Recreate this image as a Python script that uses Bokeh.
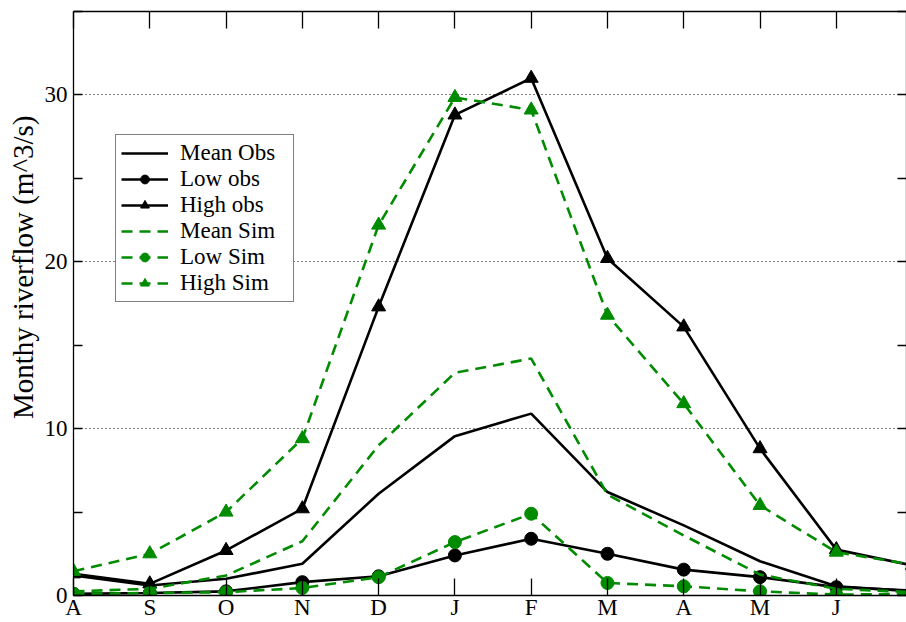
from bokeh.plotting import figure
from bokeh.models import (Range1d, FixedTicker, SingleIntervalTicker, LinearAxis,
                          Legend, LegendItem, Title)
from bokeh.embed import file_html
from bokeh.resources import INLINE

# ---- data ----
months = ["A", "S", "O", "N", "D", "J", "F", "M", "A", "M", "J", "J"]
month_idx = list(range(len(months)))

mean_obs = [1.2, 0.6, 1.0, 1.9, 6.1, 9.55, 10.9, 6.2, 4.2, 2.05, 0.55, 0.25]
low_obs = [0.1, 0.15, 0.25, 0.8, 1.15, 2.4, 3.4, 2.5, 1.55, 1.1, 0.5, 0.3]
high_obs = [1.3, 0.7, 2.7, 5.2, 17.3, 28.8, 31.0, 20.2, 16.1, 8.8, 2.75, 1.8]
mean_sim = [0.25, 0.4, 1.2, 3.25, 9.0, 13.35, 14.2, 6.05, 3.6, 1.25, 0.4, 0.2]
low_sim = [0.1, 0.15, 0.2, 0.45, 1.1, 3.2, 4.9, 0.75, 0.55, 0.25, 0.05, 0.1]
high_sim = [1.45, 2.5, 5.0, 9.4, 22.2, 29.85, 29.1, 16.8, 11.5, 5.4, 2.6, 1.85]

y_major = [0, 10, 20, 30]
y_title = "Monthy riverflow (m^3/s)"

FONT = "Liberation Serif"
BLACK = "#000000"
GREEN = "#008B00"
LW = 2.6
DASH = "11 7"

p = figure(width=906, height=622, output_backend="svg",
           toolbar_location=None,
           x_range=Range1d(0, 10.92), y_range=Range1d(0, 35),
           min_border_left=73, min_border_right=0, min_border_top=11,
           min_border_bottom=0, outline_line_color=None)

p.xaxis.visible = False
p.yaxis.visible = False
p.xgrid.visible = False

# bottom axis
xb = LinearAxis(ticker=FixedTicker(ticks=month_idx),
                major_label_overrides={i: m for i, m in enumerate(months)})
# left axis
yl = LinearAxis(ticker=SingleIntervalTicker(interval=10, num_minor_ticks=2))
# top / right mirror axes (ticks only)
xt = LinearAxis(ticker=FixedTicker(ticks=month_idx))
yr = LinearAxis(ticker=SingleIntervalTicker(interval=10, num_minor_ticks=2))

for ax in (xb, xt):
    ax.major_tick_in = 17
    ax.major_tick_out = 0
    ax.minor_tick_in = 0
    ax.minor_tick_out = 0
for ax in (yl, yr):
    ax.major_tick_in = 0
    ax.major_tick_out = 0
    ax.minor_tick_in = 9
    ax.minor_tick_out = 0
for ax in (xb, xt, yl, yr):
    ax.axis_line_color = BLACK
    ax.axis_line_width = 1.3
    ax.major_tick_line_color = BLACK
    ax.major_tick_line_width = 1.3
    ax.minor_tick_line_color = BLACK
    ax.minor_tick_line_width = 1.3
    ax.major_label_text_font = FONT
    ax.major_label_text_font_size = "23px"
    ax.major_label_text_color = BLACK

xb.major_label_standoff = -1
yl.major_label_standoff = 6
for ax in (xt, yr):
    ax.major_label_text_font_size = "1px"
    ax.major_label_text_color = None
    ax.major_label_standoff = 0

p.add_layout(xb, "below")
p.add_layout(yl, "left")
p.add_layout(xt, "above")
p.add_layout(yr, "right")

# y-axis title (placed like the reference: above the frame centre)
ytitle = Title(text=y_title, align="right", offset=104, standoff=5,
               text_font=FONT, text_font_size="29px", text_font_style="normal",
               text_color=BLACK)
p.add_layout(ytitle, "left")

# dotted horizontal grid at the major y ticks
p.ygrid.ticker = FixedTicker(ticks=y_major)
p.ygrid.grid_line_color = BLACK
p.ygrid.grid_line_width = 1
p.ygrid.grid_line_dash = "1 3"

# ---- series ----
r_mean_obs = p.line(month_idx, mean_obs, line_color=BLACK, line_width=LW)
r_low_obs_l = p.line(month_idx, low_obs, line_color=BLACK, line_width=LW)
r_low_obs_m = p.scatter(month_idx, low_obs, marker="circle", size=13,
                        fill_color=BLACK, line_color=BLACK)
r_high_obs_l = p.line(month_idx, high_obs, line_color=BLACK, line_width=LW)
r_high_obs_m = p.scatter(month_idx, high_obs, marker="triangle", size=14,
                         fill_color=BLACK, line_color=BLACK)

r_mean_sim = p.line(month_idx, mean_sim, line_color=GREEN, line_width=LW,
                    line_dash=DASH)
r_low_sim_l = p.line(month_idx, low_sim, line_color=GREEN, line_width=LW,
                     line_dash=DASH)
r_low_sim_m = p.scatter(month_idx, low_sim, marker="circle", size=13,
                        fill_color=GREEN, line_color=GREEN)
r_high_sim_l = p.line(month_idx, high_sim, line_color=GREEN, line_width=LW,
                      line_dash=DASH)
r_high_sim_m = p.scatter(month_idx, high_sim, marker="triangle", size=14,
                         fill_color=GREEN, line_color=GREEN)

legend = Legend(items=[
    LegendItem(label="Mean Obs", renderers=[r_mean_obs]),
    LegendItem(label="Low obs", renderers=[r_low_obs_l, r_low_obs_m]),
    LegendItem(label="High obs", renderers=[r_high_obs_l, r_high_obs_m]),
    LegendItem(label="Mean Sim", renderers=[r_mean_sim]),
    LegendItem(label="Low Sim", renderers=[r_low_sim_l, r_low_sim_m]),
    LegendItem(label="High Sim", renderers=[r_high_sim_l, r_high_sim_m]),
], location=(42, 293))
legend.label_text_font = FONT
legend.label_text_font_size = "23px"
legend.label_text_color = BLACK
legend.label_standoff = 12
legend.label_width = 108
legend.label_height = 22
legend.glyph_width = 47
legend.glyph_height = 22
legend.spacing = -1
legend.padding = 5
legend.margin = 0
legend.border_line_color = BLACK
legend.border_line_width = 1.3
legend.background_fill_color = "white"
legend.background_fill_alpha = 1
p.add_layout(legend, "center")

open("out.html", "w").write(file_html(p, INLINE))
